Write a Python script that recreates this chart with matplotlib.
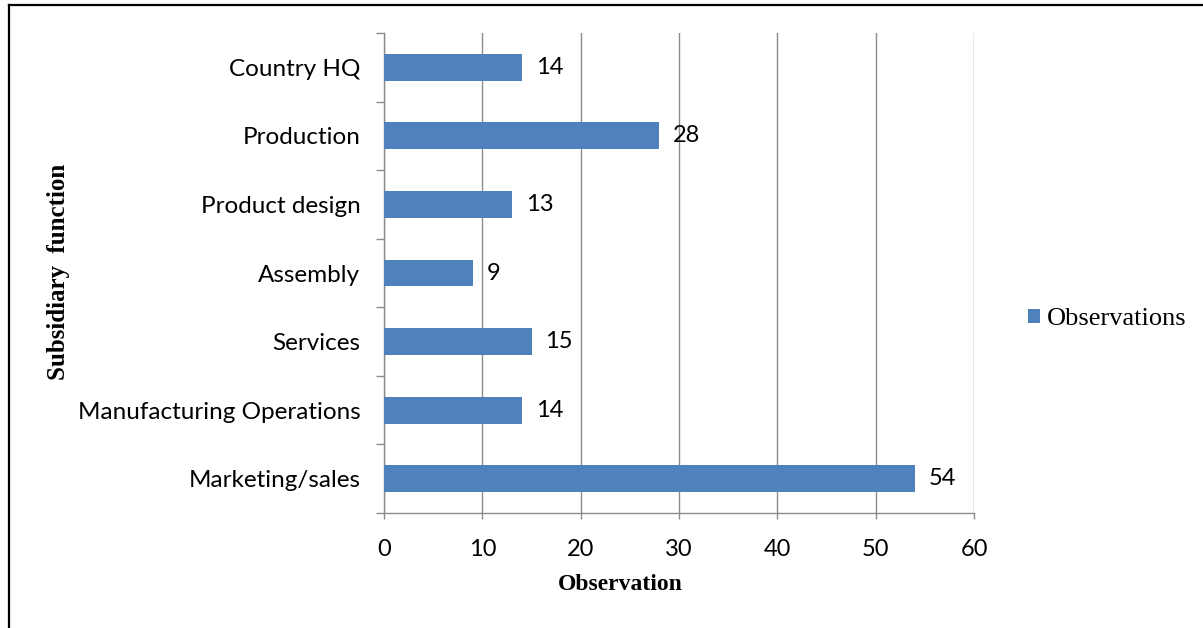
import numpy as np
import matplotlib.pyplot as plt
from matplotlib.lines import Line2D
from matplotlib.ticker import FixedLocator

# ------------------------------
# Daten
# ------------------------------
functions = ["Marketing/sales", "Manufacturing Operations", "Services",
             "Assembly", "Product design", "Production", "Country HQ"]
observations = [54, 14, 15, 9, 13, 28, 14]
x_ticks = [0, 10, 20, 30, 40, 50, 60]

bar_color = "#4F81BD"
grid_color = "#8C8C8C"

# ------------------------------
# Figur
# ------------------------------
fig = plt.figure(figsize=(12.03, 6.28), dpi=100)
ax = fig.add_axes([384 / 1203, 1 - 513 / 628, 590 / 1203, 480 / 628])

y_pos = np.arange(len(functions))
bars = ax.barh(y_pos, observations, height=0.39, color=bar_color,
               label="Observations", zorder=3)

for y, v in zip(y_pos, observations):
    ax.annotate(str(v), xy=(v, y), xytext=(10, 0), textcoords="offset points",
                va="center", ha="left", fontsize=17, family="Lato")

ax.set_xlim(0, 60)
ax.set_ylim(-0.5, len(functions) - 0.5)
ax.set_xticks(x_ticks)
ax.set_yticks(y_pos)
ax.set_yticklabels(functions, family="Lato", fontsize=17.5)
for lab in ax.get_xticklabels():
    lab.set_family("Lato")
    lab.set_fontsize(17)

# Kategoriegrenzen als kleine Striche
ax.yaxis.set_minor_locator(FixedLocator(np.arange(-0.5, len(functions), 1.0)))
ax.tick_params(axis="y", which="major", length=0, pad=17)
ax.tick_params(axis="y", which="minor", length=6, color=grid_color, width=1)
ax.tick_params(axis="x", which="major", length=4.5, color=grid_color,
               width=1, pad=14)

ax.grid(axis="x", color=grid_color, linewidth=1, zorder=0)
for s in ["top", "right"]:
    ax.spines[s].set_visible(False)
for s in ["left", "bottom"]:
    ax.spines[s].set_color(grid_color)
    ax.spines[s].set_linewidth(1)

ax.set_xlabel("Observation", family="Liberation Serif", fontweight="bold",
              fontsize=17)
ax.xaxis.set_label_coords((620 - 384) / 590, -(584 - 513) / 480)
ax.xaxis.label.set_va("center")
fig.text(59 / 1203, 1 - 272 / 628, "Subsidiary  function", rotation=90,
         family="Liberation Serif", fontweight="bold", fontsize=18,
         ha="center", va="center")

fig.legend(handles=[bars], loc="center left",
           bbox_to_anchor=(1028 / 1203, 1 - 319 / 628), frameon=False,
           prop={"family": "Liberation Serif", "size": 19},
           handlelength=0.45, handleheight=0.45, handletextpad=0.25,
           borderpad=0, borderaxespad=0)

# Rahmen oben und links
fig.add_artist(Line2D([8.5 / 1203, 8.5 / 1203], [0, 1 - 5 / 628],
                      transform=fig.transFigure, color="black", linewidth=1.6))
fig.add_artist(Line2D([8.5 / 1203, 1], [1 - 5 / 628, 1 - 5 / 628],
                      transform=fig.transFigure, color="black", linewidth=1.6))

fig.savefig("out.png", dpi=100)
